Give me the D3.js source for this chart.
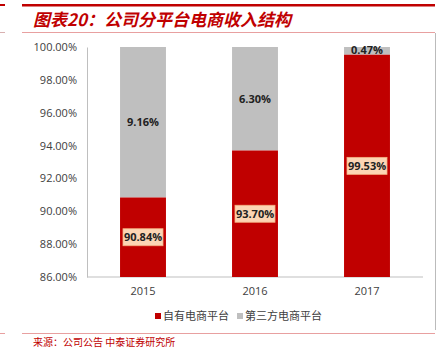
<!DOCTYPE html>
<html><head><meta charset="utf-8">
<script src="https://cdn.jsdelivr.net/npm/d3@7"></script>
<style>body{margin:0;background:#fff}svg{display:block}</style>
</head><body>
<script>
const categories = ["2015","2016","2017"];
const ownPlatform = [90.84, 93.70, 99.53];
const thirdParty = [9.16, 6.30, 0.47];
const yTicks = [86,88,90,92,94,96,98,100];
const seriesNames = ["自有电商平台","第三方电商平台"];
const colors = ["#C00000","#BFBFBF"];

const W=443,H=350;
const svg=d3.select("body").append("svg").attr("width",W).attr("height",H);
const font="'Open Sans','Liberation Sans',sans-serif";

// frame lines
svg.append("rect").attr("x",22).attr("y",4).attr("width",413).attr("height",2.5).attr("fill","#C00000");
svg.append("rect").attr("x",0).attr("y",4).attr("width",5).attr("height",2).attr("fill","#C00000");
svg.append("rect").attr("x",22).attr("y",32).attr("width",413).attr("height",1).attr("fill","#E8A0A0");
svg.append("rect").attr("x",0).attr("y",32).attr("width",5).attr("height",1).attr("fill","#D8B0B0");
svg.append("rect").attr("x",435).attr("y",33).attr("width",1).attr("height",297).attr("fill","#BBBBBB");
svg.append("rect").attr("x",22).attr("y",333).attr("width",413).attr("height",1).attr("fill","#E8A0A0");
svg.append("rect").attr("x",0).attr("y",333).attr("width",5).attr("height",1).attr("fill","#E8A0A0");

svg.append("text").attr("x",33).attr("y",26).attr("fill","#C00000")
  .attr("font-family","'Noto Sans CJK SC',sans-serif").attr("font-weight","bold")
  .attr("font-style","italic").attr("font-size",17)
  .text("图表20：公司分平台电商收入结构");

svg.append("text").attr("x",33).attr("y",346).attr("fill","#C00000")
  .attr("font-family","'Noto Sans CJK SC',sans-serif").attr("font-size",10)
  .text("来源：公司公告  中泰证券研究所");

const x=d3.scaleBand().domain(categories).range([87,423]).paddingInner(0.59).paddingOuter(0.295);
const y=d3.scaleLinear().domain([86,100]).range([277,47]);

// y axis
const yAxis=svg.append("g").attr("transform","translate(87,0)")
  .call(d3.axisLeft(y).tickValues(yTicks).tickSize(0).tickPadding(10).tickFormat(d=>d.toFixed(2)+"%"));
yAxis.select(".domain").attr("stroke","#BFBFBF");
yAxis.selectAll("text").attr("font-family",font).attr("font-size",11).attr("fill","#404040");

const xAxis=svg.append("g").attr("transform","translate(0,277)")
  .call(d3.axisBottom(x).tickSize(0).tickPadding(10));
xAxis.select(".domain").attr("stroke","#BFBFBF").attr("d","M87,0H423");
xAxis.selectAll("text").attr("font-family",font).attr("font-size",11).attr("fill","#404040");

const data=categories.map((c,i)=>({c,own:ownPlatform[i],third:thirdParty[i]}));
const g=svg.append("g");
data.forEach(d=>{
  g.append("rect").attr("x",x(d.c)).attr("width",x.bandwidth())
    .attr("y",y(100)).attr("height",y(d.own)-y(100)).attr("fill",colors[1]);
  g.append("rect").attr("x",x(d.c)).attr("width",x.bandwidth())
    .attr("y",y(d.own)).attr("height",y(86)-y(d.own)).attr("fill",colors[0]);
  const cx=x(d.c)+x.bandwidth()/2;
  const ty=(y(100)+y(d.own))/2;
  svg.append("text").attr("x",cx).attr("y",d.third<1?ty+3:ty+4).attr("text-anchor","middle")
    .attr("font-family",font).attr("font-weight","bold").attr("font-size",11).attr("fill","#222")
    .text(d.third.toFixed(2)+"%");
  const oy=(y(d.own)+y(86))/2;
  const lbl=d.own.toFixed(2)+"%";
  const bw=40,bh=17;
  svg.append("rect").attr("x",cx-bw/2).attr("y",oy-bh/2).attr("width",bw).attr("height",bh)
    .attr("fill","#FCD5B4").attr("stroke","#F4B183").attr("stroke-width",0.8);
  svg.append("text").attr("x",cx).attr("y",oy+4).attr("text-anchor","middle")
    .attr("font-family",font).attr("font-weight","bold").attr("font-size",11).attr("fill","#222")
    .text(lbl);
});

// legend
const leg=[{x:155,name:seriesNames[0],c:colors[0]},{x:237,name:seriesNames[1],c:colors[1]}];
leg.forEach(l=>{
  svg.append("rect").attr("x",l.x).attr("y",313).attr("width",6).attr("height",6).attr("fill",l.c);
  svg.append("text").attr("x",l.x+8).attr("y",320).attr("font-family","'Noto Sans CJK SC',sans-serif")
    .attr("font-size",11).attr("fill","#404040").text(l.name);
});
</script>
</body></html>
